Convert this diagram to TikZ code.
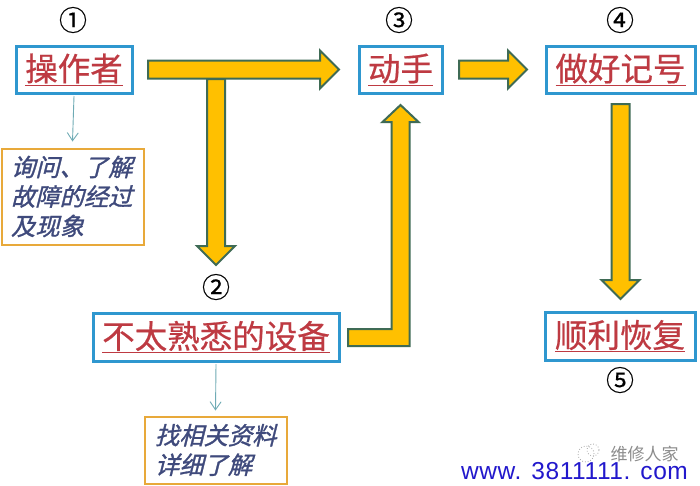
\documentclass[tikz,border=0pt]{standalone}
\usepackage{fontspec}
\usetikzlibrary{calc,arrows.meta}
\setmainfont{Liberation Sans}
\newfontfamily\cjk[FakeBold=0.6]{Noto Sans CJK SC}
\newfontfamily\cjknum[FakeBold=0.4]{Noto Sans CJK SC}
\newfontfamily\cjkplain{Noto Sans CJK SC}
\newfontfamily\cjkit[FakeSlant=0.25,FakeBold=1.2]{Noto Sans CJK SC}
\newfontfamily\webfont[LetterSpace=2.5]{Liberation Sans}
\definecolor{boxblue}{HTML}{2F97CF}
\definecolor{boxorange}{HTML}{E8A93A}
\definecolor{titlered}{HTML}{BE3A42}
\definecolor{noteblue}{HTML}{3F4A7C}
\definecolor{arrowfill}{HTML}{FFC000}
\definecolor{arrowedge}{HTML}{3F6B55}
\definecolor{thinteal}{HTML}{6FABB5}
\definecolor{webblue}{HTML}{2218CC}
\tikzset{
  x=1pt,y=-1pt,
  titlebox/.style={draw=boxblue,line width=3pt,fill=white,inner sep=0pt,outer sep=0pt,text=titlered,font=\fontsize{32.5}{32}\selectfont\cjk},
  notebox/.style={draw=boxorange,line width=2pt,fill=white,inner sep=0pt,outer sep=0pt,text=noteblue,font=\fontsize{24.3}{29.5}\selectfont\cjkit},
  numlabel/.style={inner sep=0pt,font=\fontsize{28}{28}\selectfont\cjknum,text=black},
  blockar/.style={draw=arrowedge,fill=arrowfill,line width=2pt,line join=miter},
  thinar/.style={draw=thinteal,line width=0.9pt,-{Straight Barb[length=8pt,width=11pt]}}
}
\newcommand\tul[1]{\underline{#1}}
\newcommand\notelines[2]{\raisebox{2.5pt}{\parbox{#1}{\raggedright #2}}}
\newcommand\blockright[2]{\draw[blockar] let \p1=(#1),\p2=(#2) in
  (\x1,\y1+9pt) -- (\x2-19pt,\y1+9pt) -- (\x2-19pt,\y1+19pt) -- (\x2,\y1) -- (\x2-19pt,\y1-19pt) -- (\x2-19pt,\y1-9pt) -- (\x1,\y1-9pt) -- cycle;}
\newcommand\blockdown[2]{\draw[blockar] let \p1=(#1),\p2=(#2) in
  (\x1-9pt,\y1) -- (\x1-9pt,\y2+19pt) -- (\x1-19pt,\y2+19pt) -- (\x1,\y2) -- (\x1+19pt,\y2+19pt) -- (\x1+9pt,\y2+19pt) -- (\x1+9pt,\y1) -- cycle;}
\begin{document}
\begin{tikzpicture}
\useasboundingbox (0,0) rectangle (700,485);
\fill[white] (0,0) rectangle (700,485);
% title boxes
\node[titlebox,minimum width=116pt,minimum height=47pt] (op) at (74,69.5) {\tul{操作者}};
\node[titlebox,minimum width=83pt,minimum height=47pt] (act) at (400.5,69.5) {\tul{动手}};
\node[titlebox,minimum width=149pt,minimum height=47pt] (rec) at (620.5,69.5) {\tul{做好记号}};
\node[titlebox,minimum width=246pt,minimum height=48pt] (dev) at (216,337) {\tul{不太熟悉的设备}};
\node[titlebox,minimum width=150pt,minimum height=48pt] (ok) at (620,336) {\tul{顺利恢复}};
% note boxes
\node[notebox,minimum width=142pt,minimum height=96pt] (n1) at (72.5,196.5) {\notelines{123pt}{询问、了解\\故障的经过\\及现象}};
\node[notebox,minimum width=142pt,minimum height=67pt] (n2) at (215.5,450) {\notelines{121pt}{找相关资料\\详细了解}};
% number labels
\node[numlabel] (c1) at (73,20) {①};
\node[numlabel] (c3) at (399,20) {③};
\node[numlabel] (c4) at (620,20) {④};
\node[numlabel] (c2) at (216,287) {②};
\node[numlabel] (c5) at (620,380) {⑤};
% block arrows
\coordinate (a1s) at ([xshift=16pt]op.east);
\coordinate (a1e) at ([xshift=-20pt]act.west);
\coordinate (a2s) at (216,79);
\coordinate (a2e) at ([yshift=48pt]dev.north);
\coordinate (a3s) at ([xshift=17pt]act.east);
\coordinate (a3e) at ([xshift=-19pt]rec.west);
\coordinate (a5s) at ([yshift=-11pt]rec.south);
\coordinate (a5e) at ([yshift=13pt]ok.north);
\blockdown{a2s}{a2e}
\blockright{a1s}{a1e}
\blockright{a3s}{a3e}
\blockdown{a5s}{a5e}
\coordinate (a4s) at ([xshift=9pt,yshift=-0.5pt]dev.east);
\coordinate (a4e) at ([yshift=-12pt]act.south);
\draw[blockar] let \p1=(a4s),\p2=(a4e) in
  (\x1,\y1+8.5pt) -- (\x2-9pt,\y1+8.5pt) -- (\x2-9pt,\y2-17pt) -- (\x2-18pt,\y2-17pt) -- (\x2,\y2)
  -- (\x2+18pt,\y2-17pt) -- (\x2+9pt,\y2-17pt) -- (\x2+9pt,\y1-8.5pt) -- (\x1,\y1-8.5pt) -- cycle;
% thin arrows
\coordinate (t1e) at ([yshift=7pt]n1.north);
\coordinate (t2e) at ([yshift=6pt]n2.north);
\draw[thinar] ([yshift=-3pt]op.south) -- (t1e);
\draw[thinar] ([yshift=-3pt]dev.south) -- (t2e);
% watermark
\node[inner sep=0pt,text=webblue,font=\fontsize{24.5}{24}\selectfont\webfont] (web) at (574.5,471) {www. 3811111. com};
\node[inner sep=0pt,text=black!45,font=\fontsize{17}{17}\selectfont\cjkplain] (wm) at (644.5,454) {维修人家};
\draw[black!35,line width=0.8pt,dotted] (586,454) circle (8pt);
\draw[black!35,line width=0.8pt,dotted] (593,450) circle (6pt);
\end{tikzpicture}
\end{document}
